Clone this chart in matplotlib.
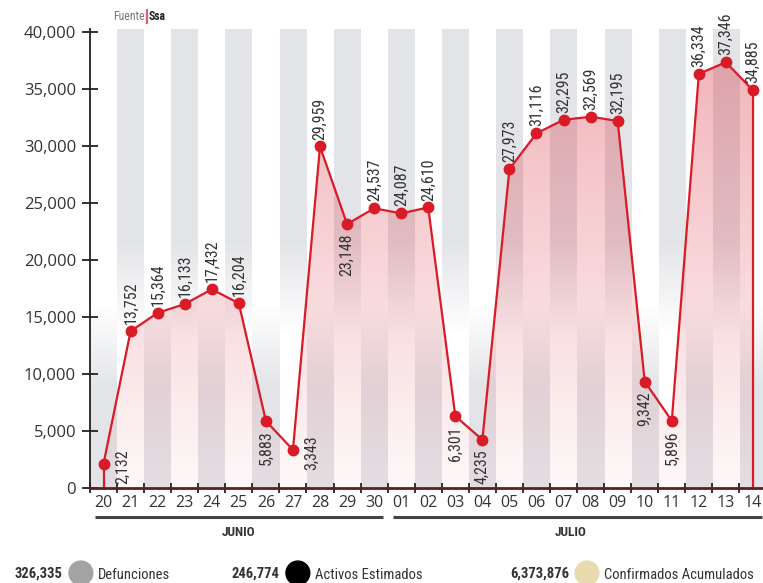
import os
import matplotlib
matplotlib.use('Agg')
import matplotlib.pyplot as plt
import numpy as np
from matplotlib import font_manager as fm
from matplotlib.font_manager import FontProperties
from matplotlib.transforms import blended_transform_factory

# ---------------- data ----------------
days = ['20', '21', '22', '23', '24', '25', '26', '27', '28', '29', '30',
        '01', '02', '03', '04', '05', '06', '07', '08', '09', '10', '11', '12', '13', '14']
values = [2132, 13752, 15364, 16133, 17432, 16204, 5883, 3343, 29959, 23148, 24537,
          24087, 24610, 6301, 4235, 27973, 31116, 32295, 32569, 32195, 9342, 5896,
          36334, 37346, 34885]
label_side = ['right', 'above', 'above', 'above', 'above', 'above', 'below', 'right',
              'above', 'below', 'above', 'above', 'above', 'below', 'below', 'above',
              'above', 'above', 'above', 'above', 'below', 'below', 'above', 'above', 'above']
months = ['JUNIO', 'JULIO']
month_first = [0, 11]
month_last = [10, 24]
yticks = [0, 5000, 10000, 15000, 20000, 25000, 30000, 35000, 40000]
legend_values = ['326,335', '246,774', '6,373,876']
legend_labels = ['Defunciones', 'Activos Estimados', 'Confirmados Acumulados']
legend_colors = ['#a3a3a3', '#000000', '#e8dbb0']

# ---------------- fonts ----------------
def find_font(prefs, bold=False):
    files = [f.fname for f in fm.fontManager.ttflist]
    for p in prefs:
        for fn in files:
            b = os.path.basename(fn).lower()
            if p in b and ('bold' in b) == bold and 'italic' not in b and 'oblique' not in b:
                return fn
    return None

cond_prefs = ['liberationsansnarrow', 'robotocondensed', 'opensans_condensed',
              'opensanscondensed', 'notosans-condensed', 'notosanscondensed',
              'dejavusanscondensed', 'condensed', 'narrow']
f_reg = find_font(cond_prefs, False)
f_bold = find_font(cond_prefs, True)
MAIN = 'Open Sans' if 'Open Sans' in {f.name for f in fm.fontManager.ttflist} else 'DejaVu Sans'
plt.rcParams['font.family'] = [MAIN, 'DejaVu Sans']

if f_reg:
    NP = FontProperties(fname=f_reg)
    LAB_FS = 11.5
else:
    NP = FontProperties(family='Roboto')
    LAB_FS = 10
if f_bold:
    NPB = FontProperties(fname=f_bold)
else:
    NPB = FontProperties(family='Roboto', weight='bold')

def fp(base, size):
    p = base.copy()
    p.set_size(size)
    return p

RED = '#d81b27'
TXT = '#333333'
W, H = 763, 583

fig = plt.figure(figsize=(W / 100, H / 100), dpi=100)
fig.patch.set_facecolor('white')

ytop = 40000 * 459 / 456
ax = fig.add_axes([90 / W, (H - 488) / H, 676.5 / W, 459 / H])
ax.set_xlim(-0.5, 24.5)
ax.set_ylim(0, ytop)
ax.set_facecolor('white')

x = np.arange(len(values))

# ---------------- background bands ----------------
ny = 600
rep = 20
yv = np.linspace(0, ytop, ny)
w_odd = np.clip((yv - 13500) / (21500 - 13500), 0, 1)
w_even = np.clip((16000 - yv) / (16000 - 9000), 0, 1)
gray = np.array([0.894, 0.898, 0.91])
img = np.ones((ny, len(values) * rep, 3))
for i in range(len(values)):
    w = w_odd if i % 2 == 1 else w_even
    col = 1 - w[:, None] * (1 - gray[None, :])
    img[:, i * rep:(i + 1) * rep, :] = col[:, None, :]
ax.imshow(img, extent=(-0.5, len(values) - 0.5, 0, ytop), origin='lower',
          aspect='auto', interpolation='nearest', zorder=0)

# ---------------- gradient fill under the line ----------------
poly = ax.fill_between(x, values, 0, facecolor='none', edgecolor='none', zorder=1)
grad = np.zeros((ny, 2, 4))
grad[..., 0] = 0.84
grad[..., 1] = 0.10
grad[..., 2] = 0.16
alpha = 0.03 + 0.31 * np.clip(yv / 40000, 0, 1)
grad[..., 3] = alpha[:, None]
im = ax.imshow(grad, extent=(-0.5, len(values) - 0.5, 0, ytop), origin='lower',
               aspect='auto', interpolation='bilinear', zorder=2)
im.set_clip_path(poly.get_paths()[0], transform=ax.transData)

# ---------------- line ----------------
ax.plot([x[0], x[0]], [0, values[0]], color=RED, lw=1.6, zorder=4, solid_capstyle='butt')
ax.plot([x[-1], x[-1]], [0, values[-1]], color=RED, lw=1.6, zorder=4, solid_capstyle='butt')
ax.plot(x, values, color=RED, lw=1.6, marker='o', ms=7.5, mfc=RED, mec=RED, zorder=5)

# ---------------- value labels ----------------
lp = fp(NP, LAB_FS)
for xi, v, side in zip(x, values, label_side):
    s = f'{v:,}'
    if side == 'above':
        ax.annotate(s, (xi, v), xytext=(0, 5), textcoords='offset points',
                    rotation=90, ha='center', va='bottom', fontproperties=lp,
                    color=TXT, zorder=6)
    elif side == 'below':
        ax.annotate(s, (xi, v), xytext=(0, -7), textcoords='offset points',
                    rotation=90, ha='center', va='top', fontproperties=lp,
                    color=TXT, zorder=6)
    else:
        ax.annotate(s, (xi, v), xytext=(8, -2), textcoords='offset points',
                    rotation=90, ha='left', va='center', fontproperties=lp,
                    color=TXT, zorder=6)

# ---------------- axes styling ----------------
for sp in ['top', 'right']:
    ax.spines[sp].set_visible(False)
ax.spines['left'].set_color('#222222')
ax.spines['left'].set_linewidth(1.3)
ax.spines['left'].set_zorder(7)
ax.spines['bottom'].set_color('#5c1f22')
ax.spines['bottom'].set_linewidth(2.0)
ax.spines['bottom'].set_zorder(7)

ax.set_yticks(yticks)
ax.set_yticklabels([f'{t:,}' for t in yticks], fontsize=12, color=TXT)
ax.tick_params(axis='y', direction='inout', length=12, width=1.3, color='#222222', pad=4)

ax.set_xticks(x)
ax.set_xticklabels(days, fontsize=11.5, color=TXT)
ax.set_xticks(np.arange(-0.5, len(values), 1), minor=True)
ax.tick_params(axis='x', which='major', length=0, pad=5)
ax.tick_params(axis='x', which='minor', direction='inout', length=7, width=1.3, color='#222222')

# ---------------- overlay (pixel coords) ----------------
ov = fig.add_axes([0, 0, 1, 1], zorder=10)
ov.set_xlim(0, W)
ov.set_ylim(H, 0)
ov.axis('off')
ov.patch.set_alpha(0)

bt = blended_transform_factory(ax.transData, ov.transData)
for name, a, b in zip(months, month_first, month_last):
    ov.plot([a - 0.32, min(b + 0.32, 25)], [517, 517], color='#444444', lw=2.2,
            transform=bt, clip_on=False, solid_capstyle='butt')
    ov.text((a + b) / 2 - (0.25 if b > 20 else 0), 533, name, transform=bt,
            ha='center', va='center', fontproperties=fp(NPB, 9.5), color=TXT)

# source text
fig.canvas.draw()
rend = fig.canvas.get_renderer()
t1 = ov.text(113, 16, 'Fuente', fontproperties=fp(NP, 8.5), color='#777777',
             va='center', ha='left')
bb1 = t1.get_window_extent(renderer=rend)
ov.plot([bb1.x1 + 2, bb1.x1 + 2], [10, 23], color='#e06070', lw=1.6)
ov.text(bb1.x1 + 4, 16, 'Ssa', fontproperties=fp(NPB, 8.5), color='#222222',
        va='center', ha='left')

# legend
leg_num_x = [15, 232, 510]
for lx, val, lab, c in zip(leg_num_x, legend_values, legend_labels, legend_colors):
    t = ov.text(lx, 574, val, fontproperties=fp(NPB, 10.5), color='#333333',
                va='center', ha='left')
    bb = t.get_window_extent(renderer=rend)
    cx = bb.x1 + 18
    ov.scatter([cx], [573], s=330, color=c, edgecolors='none', clip_on=False)
    ov.text(cx + 17, 575, lab, fontproperties=fp(NP, 10.5), color='#333333',
            va='center', ha='left')

fig.savefig('out.png', dpi=100, facecolor='white')
